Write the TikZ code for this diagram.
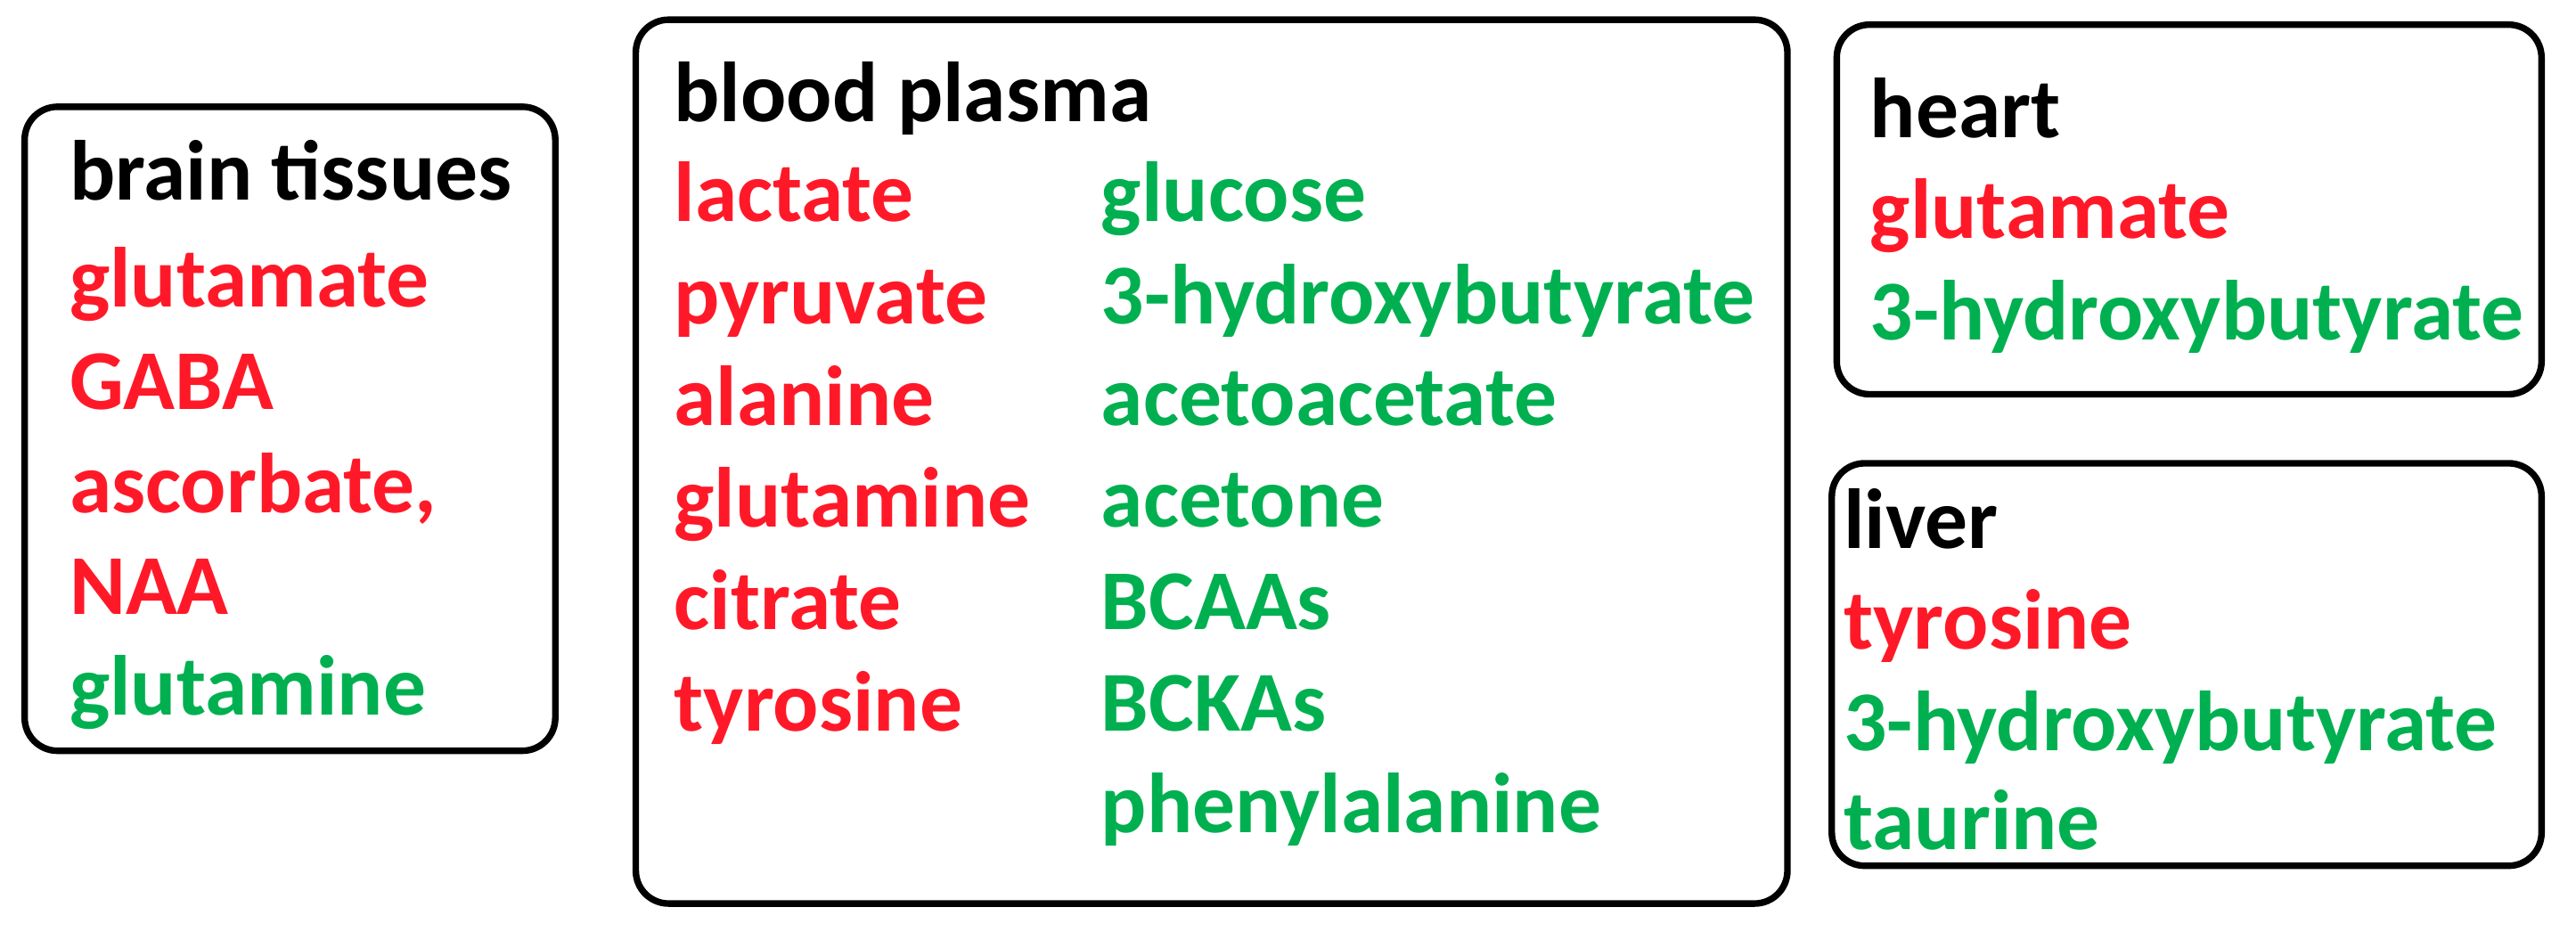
\documentclass[tikz,border=0pt]{standalone}
\usepackage{fontspec}
\setmainfont{Carlito}
\definecolor{myred}{RGB}{255,25,40}
\definecolor{mygreen}{RGB}{0,176,80}
\begin{document}
\begin{tikzpicture}[x=0.02cm,y=-0.02cm,
  box/.style={draw=black,line width=0.08cm,rounded corners=0.4cm},
  t/.style={anchor=west,inner sep=0pt,text height=0.5cm,text depth=0.14cm,font=\fontsize{29.5}{34}\selectfont\bfseries},
  r/.style={t,text=myred},
  g/.style={t,text=mygreen}]
\useasboundingbox (0,0) rectangle (1568,572);
\draw[box] (15,65) rectangle (338,457);
\draw[box] (387,12) rectangle (1088,550);
\draw[box] (1118,15) rectangle (1547,240);
\draw[box] (1115,282) rectangle (1547,527);
% brain
\node[t] (bt) at (42,113) {brain tissues};
\node[r] (b1) at (42,178) {glutamate};
\node[r] (b2) at (42,240) {GABA};
\node[r] (b3) at (42,303) {ascorbate,};
\node[r] (b4) at (42,365) {NAA};
\node[g] (b5) at (42,426) {glutamine};
% plasma
\node[t] (pt) at (410,65) {blood plasma};
\node[r] (p1) at (410,126) {lactate};
\node[r] (p2) at (410,188) {pyruvate};
\node[r] (p3) at (410,250) {alanine};
\node[r] (p4) at (410,312) {glutamine};
\node[r] (p5) at (410,374) {citrate};
\node[r] (p6) at (410,436) {tyrosine};
\node[g] (q1) at (670,126) {glucose};
\node[g] (q2) at (670,188) {3-hydroxybutyrate};
\node[g] (q3) at (670,250) {acetoacetate};
\node[g] (q4) at (670,312) {acetone};
\node[g] (q5) at (670,374) {BCAAs};
\node[g] (q6) at (670,436) {BCKAs};
\node[g] (q7) at (670,498) {phenylalanine};
% heart
\node[t] (ht) at (1138,75) {heart};
\node[r] (h1) at (1138,136) {glutamate};
\node[g] (h2) at (1138,198) {3-hydroxybutyrate};
% liver
\node[t] (lt) at (1122,325) {liver};
\node[r] (l1) at (1122,386) {tyrosine};
\node[g] (l2) at (1122,448) {3-hydroxybutyrate};
\node[g] (l3) at (1122,508) {taurine};
\end{tikzpicture}
\end{document}
